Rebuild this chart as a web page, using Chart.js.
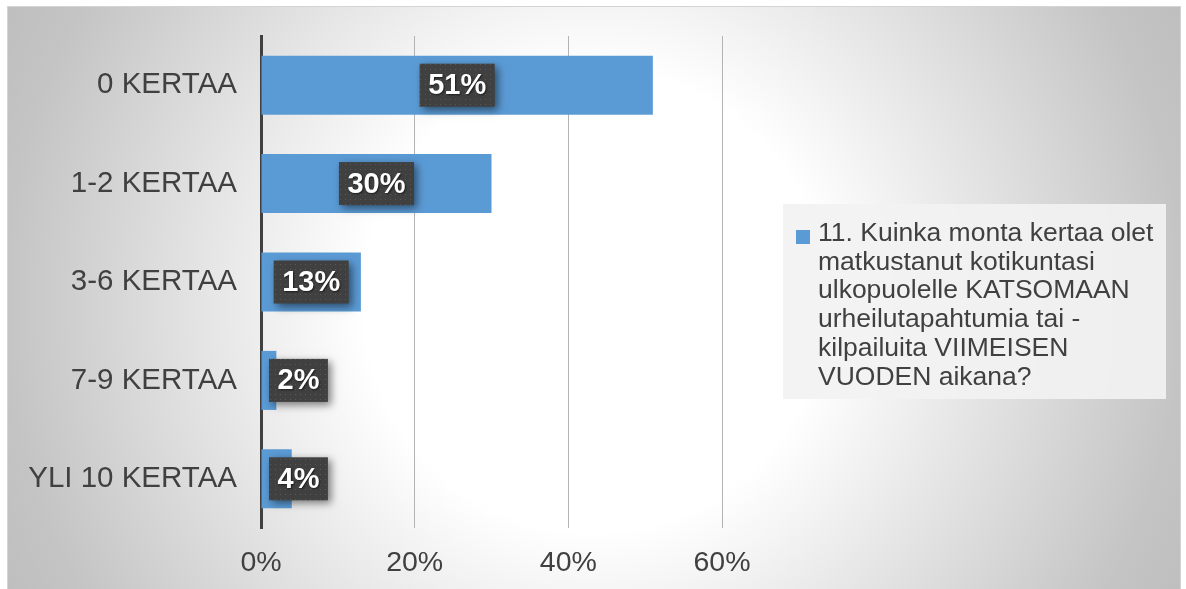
<!DOCTYPE html>
<html lang="fi">
<head>
  <meta charset="UTF-8">
  <title>Matkat urheilutapahtumiin</title>
  <script src="https://cdn.jsdelivr.net/npm/chart.js"></script>
  <style>
    body {
      margin: 0;
      background: #ffffff;
      font-family: "Liberation Sans", Arial, sans-serif;
    }

    .kehys {
      position: absolute;
      left: 7px;
      top: 6px;
      width: 1172px;
      height: 588px;
      border: 1px solid #d4d4d4;
      background: radial-gradient(circle 660px at 50% 50%, #ffffff 0px, #ffffff 230px, #c4c4c4 590px, #bebebe 660px);
      overflow: hidden;
    }

    canvas {
      position: absolute;
      left: 0;
      top: 0;
    }

    .selite {
      position: absolute;
      left: 775px;
      top: 197px;
      width: 383px;
      height: 195px;
      background: rgba(242, 242, 242, 0.92);
      color: #404040;
      font-size: 26.5px;
      line-height: 28.7px;
    }

    .selite .ruutu {
      position: absolute;
      left: 13px;
      top: 26px;
      width: 14px;
      height: 14px;
      background: #5b9bd5;
    }

    .selite .teksti {
      position: absolute;
      left: 35px;
      top: 14px;
      white-space: nowrap;
    }
  </style>
</head>
<body>
  <div class="kehys">
    <canvas id="kaavio" width="1172" height="582"></canvas>
    <div class="selite">
      <div class="ruutu"></div>
      <div class="teksti" id="seliteTeksti"></div>
    </div>
  </div>

  <script>
    const kategoriat = ["0 KERTAA", "1-2 KERTAA", "3-6 KERTAA", "7-9 KERTAA", "YLI 10 KERTAA"];
    const arvot = [51, 30, 13, 2, 4];
    const akseliTiedot = [0, 20, 40, 60];
    const seliteRivit = [
      "11. Kuinka monta kertaa olet",
      "matkustanut kotikuntasi",
      "ulkopuolelle KATSOMAAN",
      "urheilutapahtumia tai -",
      "kilpailuita VIIMEISEN",
      "VUODEN aikana?"
    ];

    const fontti = '"Liberation Sans", Arial, sans-serif';

    document.getElementById("seliteTeksti").innerHTML = seliteRivit.join("<br>");

    // pieni pistekuvio arvolaatikoiden taustaksi
    function teeKuvio(ctx) {
      const c = document.createElement("canvas");
      c.width = 5;
      c.height = 5;
      const k = c.getContext("2d");
      k.fillStyle = "rgba(255,255,255,0.13)";
      k.fillRect(2, 2, 1, 1);
      return ctx.createPattern(c, "repeat");
    }

    const arvoLaatikot = {
      id: "arvoLaatikot",
      afterDatasetsDraw(chart) {
        const ctx = chart.ctx;
        const alue = chart.chartArea;
        const meta = chart.getDatasetMeta(0);
        const kuvio = teeKuvio(ctx);
        ctx.save();
        ctx.font = "bold 29px " + fontti;
        meta.data.forEach((palkki, i) => {
          const teksti = arvot[i] + "%";
          const w = ctx.measureText(teksti).width + 17;
          const h = 43;
          let x = (palkki.base + palkki.x) / 2 - w / 2;
          x = Math.max(x, alue.left + 8);
          const y = palkki.y - h / 2;

          ctx.shadowColor = "rgba(0,0,0,0.5)";
          ctx.shadowBlur = 8;
          ctx.shadowOffsetX = 3;
          ctx.shadowOffsetY = 3;
          ctx.fillStyle = "#404040";
          ctx.fillRect(x, y, w, h);

          ctx.shadowColor = "transparent";
          ctx.fillStyle = kuvio;
          ctx.fillRect(x, y, w, h);

          ctx.shadowColor = "rgba(0,0,0,0.6)";
          ctx.shadowBlur = 2;
          ctx.shadowOffsetX = 1;
          ctx.shadowOffsetY = 1;
          ctx.fillStyle = "#ffffff";
          ctx.textAlign = "center";
          ctx.textBaseline = "middle";
          ctx.fillText(teksti, x + w / 2, palkki.y + 1);
        });
        ctx.restore();
      }
    };

    new Chart(document.getElementById("kaavio"), {
      type: "bar",
      data: {
        labels: kategoriat,
        datasets: [{
          label: seliteRivit.join(" "),
          data: arvot,
          backgroundColor: "#5b9bd5",
          borderWidth: 0,
          categoryPercentage: 1,
          barPercentage: 0.6
        }]
      },
      options: {
        indexAxis: "y",
        responsive: false,
        animation: false,
        layout: {
          padding: { top: 29, right: 458, left: 0, bottom: 0 }
        },
        plugins: {
          legend: { display: false },
          tooltip: { enabled: false }
        },
        scales: {
          x: {
            min: 0,
            max: 60,
            afterFit(scale) {
              scale.height = 61;
              scale.paddingLeft = 0;
              scale.paddingRight = 0;
            },
            afterBuildTicks(scale) {
              scale.ticks = akseliTiedot.map(v => ({ value: v }));
            },
            grid: {
              color: "#b3b3b3",
              lineWidth: 1,
              drawTicks: false
            },
            border: { display: false },
            ticks: {
              padding: 18,
              color: "#404040",
              font: { family: fontti, size: 28.5 },
              callback: v => v + "%"
            }
          },
          y: {
            afterFit(scale) {
              scale.width = 253;
              scale.paddingTop = 0;
              scale.paddingBottom = 0;
            },
            grid: { display: false, drawTicks: false },
            border: { color: "#404040", width: 3 },
            ticks: {
              padding: 24,
              color: "#404040",
              font: { family: fontti, size: 29.5 }
            }
          }
        }
      },
      plugins: [arvoLaatikot]
    });
  </script>
</body>
</html>
